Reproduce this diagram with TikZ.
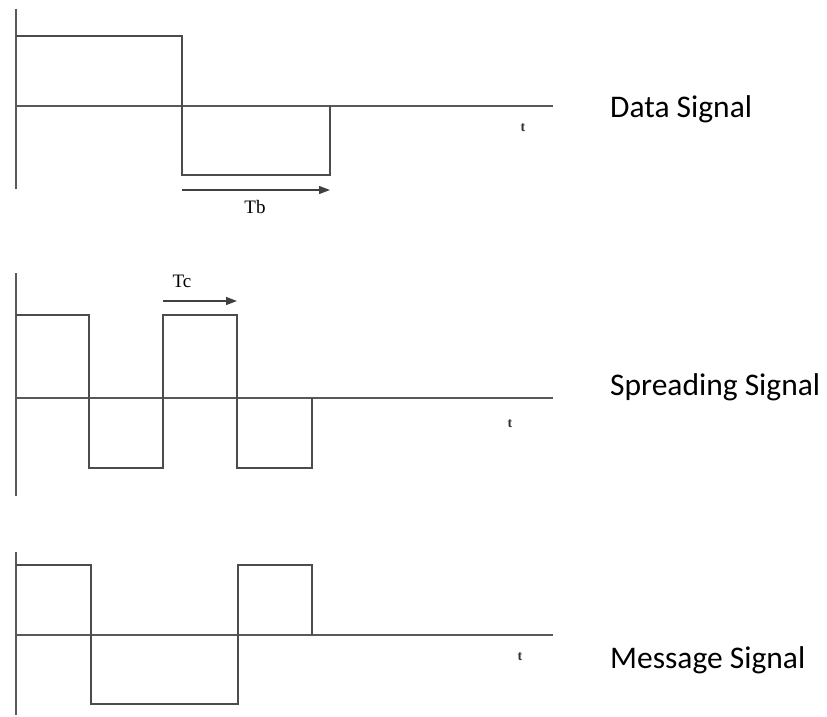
\documentclass[tikz,border=0pt]{standalone}
\usepackage{fontspec}
\setmainfont{Liberation Serif}
\newfontfamily\siglabelfont{Carlito}
\usetikzlibrary{arrows.meta}
\tikzset{
  wave/.style={line width=1.3pt, draw=black!70, line join=miter},
  axisline/.style={line width=1.3pt, draw=black!65},
  period/.style={line width=1.3pt, draw=black!75, -{Triangle[length=11pt,width=8pt]}},
  tlabel/.style={font=\bfseries\fontsize{14}{16}\selectfont, text=black!80, inner sep=0pt},
  durlabel/.style={font=\fontsize{19}{21}\selectfont, inner sep=0pt},
  siglabel/.style={font=\siglabelfont\fontsize{31.5}{36}\selectfont, anchor=base west, inner sep=0pt}
}
\begin{document}
\begin{tikzpicture}[x=1pt,y=-1pt]
      \useasboundingbox (0,0) rectangle (827,717);
      \draw
        (182,190) coordinate (tb0)
        (330,190) coordinate (tb1)
        (163,301) coordinate (tc0)
        (237,301) coordinate (tc1)
        (255,207) node[durlabel] (tb){Tb}
        (182,281) node[durlabel] (tc){Tc}
        (523,128) node[tlabel] (t1){t}
        (510,424) node[tlabel] (t2){t}
        (520,657) node[tlabel] (t3){t}
        (610,117) node[siglabel] (data){Data Signal}
        (610,395) node[siglabel] (spread){Spreading Signal}
        (610,668) node[siglabel] (msg){Message Signal};
      \begin{scope}[axisline]
        \draw (16,9) -- (16,189);
        \draw (16,106) -- (553,106);
        \draw (16,273) -- (16,496);
        \draw (16,398) -- (553,398);
        \draw (16,552) -- (16,715);
        \draw (16,635) -- (553,635);
      \end{scope}
      \begin{scope}[wave]
        \draw (16,36) -- (182,36) -- (182,175) -- (330,175) -- (330,106);
        \draw (16,315) -- (89,315) -- (89,468) -- (163,468) -- (163,315)
          -- (237,315) -- (237,468) -- (312,468) -- (312,398);
        \draw (16,565) -- (91,565) -- (91,704) -- (238,704) -- (238,565)
          -- (312,565) -- (312,635);
      \end{scope}
      \begin{scope}[period]
        \draw (tb0) to (tb1);
        \draw (tc0) to (tc1);
      \end{scope}
    \end{tikzpicture}
\end{document}
